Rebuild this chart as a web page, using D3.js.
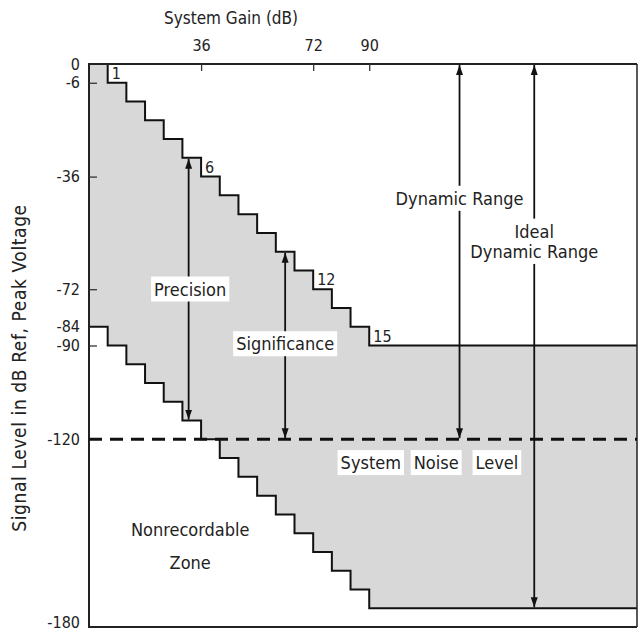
<!DOCTYPE html>
<html>
<head>
<meta charset="utf-8">
<title>Dynamic Range</title>
<script src="https://d3js.org/d3.v7.min.js"></script>
<style>
    body {
        margin: 0;
        background: #fff;
    }
    text {
        font-family: "DejaVu Sans Condensed", "Liberation Sans Narrow", sans-serif;
        fill: #222;
    }
</style>
</head>
<body>
<script>
    // gain at which each 6 dB step starts, and the level held until the next one
    const stepGain = [0, 6, 12, 18, 24, 30, 36, 42, 48, 54, 60, 66, 72, 78, 84, 90];
    const upperLevel = [0, -6, -12, -18, -24, -30, -36, -42, -48, -54, -60, -66, -72, -78, -84, -90];
    const lowerLevel = [-84, -90, -96, -102, -108, -114, -120, -126, -132, -138, -144, -150, -156, -162, -168, -174];
    const maxGain = 176;
    const noiseLevel = -120;

    const gainTicks = [36, 72, 90];
    const levelTicks = [0, -6, -36, -72, -84, -90, -120, -180];

    const stepLabels = [
        {text: "1", gain: 6, level: -6},
        {text: "6", gain: 36, level: -36},
        {text: "12", gain: 72, level: -72},
        {text: "15", gain: 90, level: -90}
    ];

    const arrows = [
        {gain: 32, top: -30, bottom: -114},
        {gain: 63, top: -60, bottom: -120},
        {gain: 119, top: 0, bottom: -120},
        {gain: 143, top: 0, bottom: -174}
    ];

    const boxLabels = [
        {text: "Precision", gain: 32.5, level: -72},
        {text: "Significance", gain: 63, level: -89.5},
        {text: "Dynamic Range", gain: 119, level: -43},
        {text: "Ideal", gain: 143, level: -53.5},
        {text: "Dynamic Range", gain: 143, level: -60},
        {text: "System", gain: 90.5, level: -127.5},
        {text: "Noise", gain: 111.5, level: -127.5},
        {text: "Level", gain: 131, level: -127.5}
    ];

    const plainLabels = [
        {text: "Nonrecordable", gain: 32.5, level: -149},
        {text: "Zone", gain: 32.5, level: -159.5}
    ];

    const width = 639, height = 632;
    const plotLeft = 89, plotRight = 637, plotTop = 64, plotBottom = 627;

    const x = d3.scaleLinear().domain([0, maxGain]).range([plotLeft, plotRight]);
    const y = d3.scaleLinear().domain([0, -180]).range([plotTop, plotBottom]);

    const svg = d3.select("body").append("svg")
        .attr("width", width)
        .attr("height", height);

    const rows = stepGain.map(function(g, i) {
        return {gain: g, upper: upperLevel[i], lower: lowerLevel[i]};
    });
    rows.push({gain: maxGain, upper: upperLevel[upperLevel.length - 1], lower: lowerLevel[lowerLevel.length - 1]});

    // shaded recordable region
    svg.append("path")
        .datum(rows)
        .attr("fill", "#d8d8d8")
        .attr("d", d3.area()
            .curve(d3.curveStepAfter)
            .x(function(d) { return x(d.gain); })
            .y0(function(d) { return y(d.lower); })
            .y1(function(d) { return y(d.upper); }));

    const stair = function(key) {
        return d3.line()
            .curve(d3.curveStepAfter)
            .x(function(d) { return x(d.gain); })
            .y(function(d) { return y(d[key]); });
    };

    svg.append("path").datum(rows)
        .attr("fill", "none").attr("stroke", "#111").attr("stroke-width", 2)
        .attr("d", stair("upper"));
    svg.append("path").datum(rows)
        .attr("fill", "none").attr("stroke", "#111").attr("stroke-width", 2)
        .attr("d", stair("lower"));

    // frame
    svg.append("path")
        .attr("fill", "none").attr("stroke", "#222").attr("stroke-width", 2)
        .attr("d", "M" + plotRight + "," + y(0) + "H" + plotLeft + "V" + y(-180) + "H" + plotRight);
    svg.append("line")
        .attr("x1", plotRight).attr("x2", plotRight)
        .attr("y1", y(0)).attr("y2", y(-180))
        .attr("stroke", "#222").attr("stroke-width", 1.5);

    // axes
    const topAxis = svg.append("g")
        .attr("transform", "translate(0," + y(0) + ")")
        .call(d3.axisTop(x).tickValues(gainTicks).tickSize(-7).tickPadding(13));
    topAxis.select(".domain").remove();
    topAxis.attr("font-family", null);
    topAxis.selectAll("text").attr("font-size", 16);
    topAxis.selectAll("line").attr("stroke", "#333").attr("stroke-width", 1.3);

    const leftAxis = svg.append("g")
        .attr("transform", "translate(" + plotLeft + ",0)")
        .call(d3.axisLeft(y).tickValues(levelTicks).tickSize(-8).tickPadding(9)
            .tickFormat(function(d) { return d === 0 ? "0" : "-" + Math.abs(d); }));
    leftAxis.select(".domain").remove();
    leftAxis.attr("font-family", null);
    leftAxis.selectAll("text").attr("font-size", 16);
    leftAxis.selectAll("line").attr("stroke", "#333").attr("stroke-width", 1.3);
    leftAxis.selectAll(".tick").filter(function(d) { return d === 0 || d === -180 || d === -84 || d === -120; })
        .select("line").remove();
    // keep the bottom label inside the window
    leftAxis.selectAll(".tick").filter(function(d) { return d === -180; })
        .select("text").attr("dy", "0.05em");

    svg.append("text")
        .attr("x", 231).attr("y", 24)
        .attr("text-anchor", "middle")
        .attr("font-size", 17)
        .text("System Gain (dB)");

    svg.append("text")
        .attr("transform", "translate(26," + 368 + ") rotate(-90)")
        .attr("text-anchor", "middle")
        .attr("font-size", 19)
        .attr("letter-spacing", 0.6)
        .text("Signal Level in dB Ref,  Peak Voltage");

    // system noise level
    svg.append("line")
        .attr("x1", x(0)).attr("x2", plotRight)
        .attr("y1", y(noiseLevel)).attr("y2", y(noiseLevel))
        .attr("stroke", "#111").attr("stroke-width", 3)
        .attr("stroke-dasharray", "13,8");

    // arrows
    const defs = svg.append("defs");
    defs.append("marker")
        .attr("id", "head")
        .attr("viewBox", "0 0 10 10")
        .attr("refX", 10).attr("refY", 5)
        .attr("markerWidth", 10).attr("markerHeight", 10)
        .attr("markerUnits", "userSpaceOnUse")
        .attr("orient", "auto-start-reverse")
        .append("path")
        .attr("d", "M0,1.5L10,5L0,8.5Z")
        .attr("fill", "#111");

    svg.append("g").selectAll("line")
        .data(arrows)
        .join("line")
        .attr("x1", function(d) { return x(d.gain); })
        .attr("x2", function(d) { return x(d.gain); })
        .attr("y1", function(d) { return y(d.top) + 1; })
        .attr("y2", function(d) { return y(d.bottom) - 1; })
        .attr("stroke", "#111").attr("stroke-width", 1.8)
        .attr("marker-start", "url(#head)")
        .attr("marker-end", "url(#head)");

    // step numbers
    svg.append("g").selectAll("text")
        .data(stepLabels)
        .join("text")
        .attr("x", function(d) { return x(d.gain) + 4; })
        .attr("y", function(d) { return y(d.level) - 4; })
        .attr("font-size", 16)
        .text(function(d) { return d.text; });

    // labels on white boxes
    const boxed = svg.append("g").selectAll("g")
        .data(boxLabels)
        .join("g")
        .attr("transform", function(d) { return "translate(" + x(d.gain) + "," + y(d.level) + ")"; });
    boxed.append("text")
        .attr("text-anchor", "middle")
        .attr("dy", "0.35em")
        .attr("font-size", 18)
        .text(function(d) { return d.text; });
    boxed.each(function() {
        const g = d3.select(this);
        const b = g.select("text").node().getBBox();
        g.insert("rect", "text")
            .attr("x", b.x - 3).attr("y", b.y - 2)
            .attr("width", b.width + 6).attr("height", b.height + 4)
            .attr("fill", "#fff");
    });

    svg.append("g").selectAll("text")
        .data(plainLabels)
        .join("text")
        .attr("x", function(d) { return x(d.gain); })
        .attr("y", function(d) { return y(d.level); })
        .attr("dy", "0.35em")
        .attr("text-anchor", "middle")
        .attr("font-size", 18)
        .text(function(d) { return d.text; });
</script>
</body>
</html>
